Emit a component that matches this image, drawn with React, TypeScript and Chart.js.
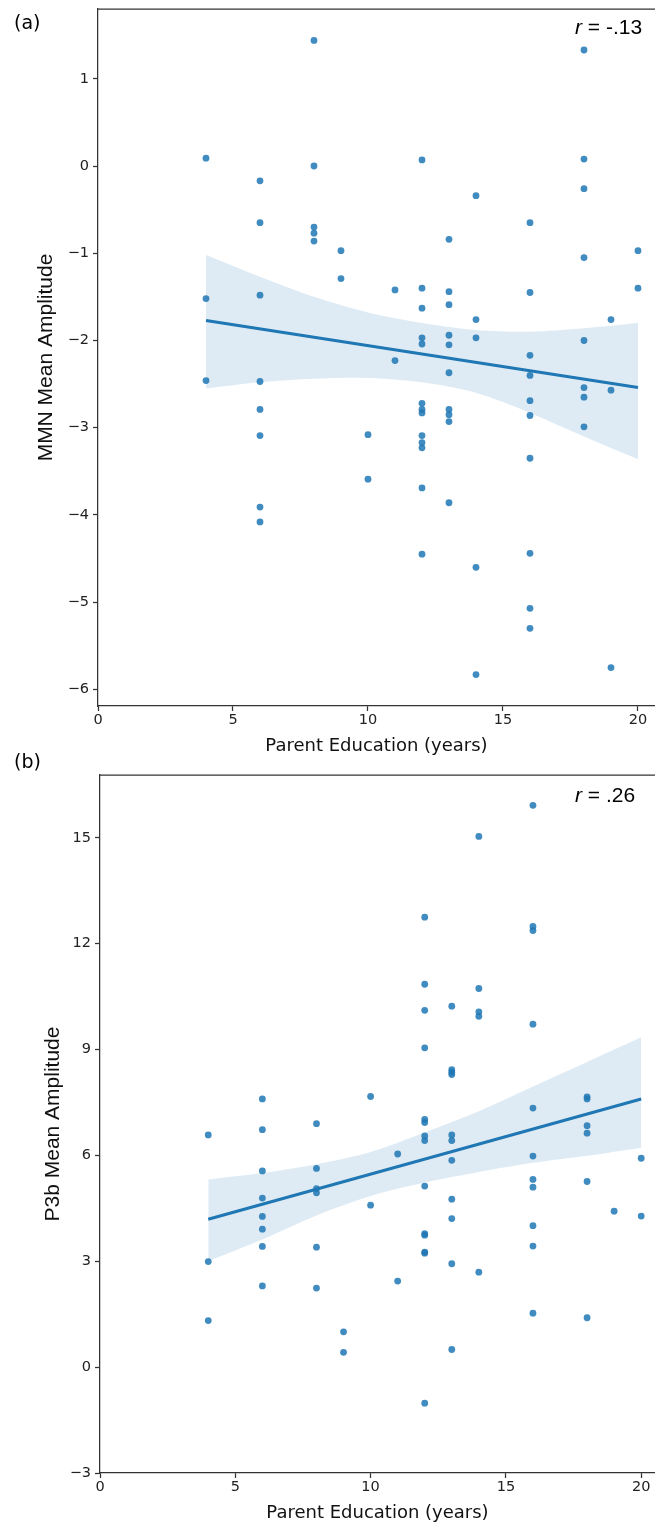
import React, { useEffect, useRef } from "react";
import { Chart, registerables } from "chart.js";

Chart.register(...registerables);

// ---------- Data ----------
// Panel (a): MMN mean amplitude vs parent education
const educationA = [
  4, 4, 4,
  6, 6, 6, 6, 6, 6, 6, 6,
  8, 8, 8, 8, 8,
  9, 9,
  10, 10,
  11, 11,
  12, 12, 12, 12, 12, 12, 12, 12, 12, 12, 12, 12, 12,
  13, 13, 13, 13, 13, 13, 13, 13, 13, 13,
  14, 14, 14, 14, 14,
  16, 16, 16, 16, 16, 16, 16, 16, 16, 16,
  18, 18, 18, 18, 18, 18, 18, 18,
  19, 19, 19,
  20, 20,
];
const mmnAmplitude = [
  0.09, -1.52, -2.46,
  -0.17, -0.65, -1.48, -2.47, -2.79, -3.09, -3.91, -4.08,
  1.44, 0.0, -0.7, -0.77, -0.86,
  -0.97, -1.29,
  -3.08, -3.59,
  -1.42, -2.23,
  0.07, -1.4, -1.63, -1.97, -2.04, -2.72, -2.79, -2.83, -3.09, -3.17, -3.23, -3.69, -4.45,
  -0.84, -1.44, -1.59, -1.94, -2.05, -2.37, -2.79, -2.85, -2.93, -3.86,
  -0.34, -1.76, -1.97, -4.6, -5.83,
  -0.65, -1.45, -2.17, -2.4, -2.69, -2.86, -3.35, -4.44, -5.07, -5.3,
  1.33, 0.08, -0.26, -1.05, -2.0, -2.54, -2.65, -2.99,
  -1.76, -2.57, -5.75,
  -0.97, -1.4,
];
const fitXA = [4, 20];
const fitYA = [-1.77, -2.54];
const bandXA = [4, 6, 8, 10, 12, 14, 16, 18, 20];
const bandUpperA = [-1.02, -1.27, -1.5, -1.68, -1.8, -1.88, -1.9, -1.86, -1.8];
const bandLowerA = [-2.55, -2.48, -2.44, -2.43, -2.48, -2.6, -2.83, -3.1, -3.36];
const yTicksA = [-6, -5, -4, -3, -2, -1, 0, 1];

// Panel (b): P3b mean amplitude vs parent education
const educationB = [
  4, 4, 4,
  6, 6, 6, 6, 6, 6, 6, 6,
  8, 8, 8, 8, 8, 8,
  9, 9,
  10, 10,
  11, 11,
  12, 12, 12, 12, 12, 12, 12, 12, 12, 12, 12, 12, 12, 12,
  13, 13, 13, 13, 13, 13, 13, 13, 13, 13, 13,
  14, 14, 14, 14, 14,
  16, 16, 16, 16, 16, 16, 16, 16, 16, 16, 16,
  18, 18, 18, 18, 18, 18,
  19,
  20, 20,
];
const p3bAmplitude = [
  6.58, 2.99, 1.32,
  7.6, 6.73, 5.56, 4.79, 4.27, 3.91, 3.42, 2.3,
  6.9, 5.63, 5.06, 4.94, 3.4, 2.24,
  1.0, 0.42,
  7.67, 4.59,
  6.04, 2.44,
  12.75, 10.85, 10.11, 9.05, 7.02, 6.93, 6.55, 6.42, 5.13, 3.78, 3.74, 3.26, 3.23, -1.02,
  10.23, 8.43, 8.36, 8.29, 6.58, 6.42, 5.86, 4.76, 4.21, 2.93, 0.5,
  15.04, 10.73, 10.07, 9.94, 2.69,
  15.92, 12.49, 12.37, 9.72, 7.34, 5.98, 5.32, 5.1, 4.01, 3.43, 1.53,
  7.66, 7.6, 6.84, 6.63, 5.26, 1.4,
  4.42,
  5.92, 4.28,
];
const fitXB = [4, 20];
const fitYB = [4.19, 7.6];
const bandXB = [4, 6, 8, 10, 12, 14, 16, 18, 20];
const bandUpperB = [5.32, 5.5, 5.75, 6.1, 6.65, 7.25, 7.95, 8.65, 9.35];
const bandLowerB = [3.01, 3.62, 4.3, 4.85, 5.23, 5.53, 5.79, 5.99, 6.22];
const yTicksB = [-3, 0, 3, 6, 9, 12, 15];

const xTicks = [0, 5, 10, 15, 20];

const panelLabels = ["(a)", "(b)"];
const rValues = [" = -.13", " = .26"];
const yTitles = ["MMN Mean Amplitude", "P3b Mean Amplitude"];
const xTitle = "Parent Education (years)";

// ---------- Styling ----------
const BLUE = "#1f77b4";
const POINT = "rgba(31,119,180,0.85)";
const BAND = "rgba(31,119,180,0.15)";
const SPINE = "#333333";
const TICKFONT = { family: "'DejaVu Sans'", size: 14.5 };

const fmt = (v: number) => (v < 0 ? "\u2212" + Math.abs(v) : String(v));

function pts(xs: number[], ys: number[]) {
  return xs.map((x, i) => ({ x, y: ys[i] }));
}

type PanelCfg = {
  educ: number[];
  amp: number[];
  fitX: number[];
  fitY: number[];
  bandX: number[];
  bandU: number[];
  bandL: number[];
  yTicks: number[];
  yMin: number;
  yMax: number;
  xMax: number;
  padTop: number;
  yWidth: number;
  xHeight: number;
  yTitle: string;
  yTitlePad: number;
  xTitlePad: number;
  label: string;
  labelY: number;
  rText: string;
  rY: number;
};

function makeChart(canvas: HTMLCanvasElement, c: PanelCfg) {
  const decor = {
    id: "decor",
    afterDraw(chart: any) {
      const { ctx, chartArea } = chart;
      ctx.save();
      ctx.strokeStyle = SPINE;
      ctx.lineWidth = 1.25;
      ctx.beginPath();
      ctx.moveTo(chartArea.left, chartArea.top);
      ctx.lineTo(chartArea.right, chartArea.top);
      ctx.stroke();
      ctx.fillStyle = "#000";
      ctx.textBaseline = "alphabetic";
      ctx.textAlign = "left";
      ctx.font = "19px 'DejaVu Sans'";
      ctx.fillText(c.label, 14, c.labelY);
      ctx.font = "italic 21px 'Liberation Sans'";
      ctx.fillText("r", 575, c.rY);
      const w = ctx.measureText("r").width;
      ctx.font = "21px 'Liberation Sans'";
      ctx.fillText(c.rText, 575 + w, c.rY);
      ctx.restore();
    },
  };

  const noPad = (s: any) => {
    s.paddingLeft = 0;
    s.paddingRight = 0;
    s.paddingTop = 0;
    s.paddingBottom = 0;
  };

  return new Chart(canvas, {
    type: "scatter",
    data: {
      datasets: [
        {
          type: "line",
          data: pts(c.bandX, c.bandU),
          borderWidth: 0,
          borderColor: "rgba(0,0,0,0)",
          backgroundColor: BAND,
          pointRadius: 0,
          fill: "+1",
          tension: 0.3,
          order: 3,
        } as any,
        {
          type: "line",
          data: pts(c.bandX, c.bandL),
          borderWidth: 0,
          borderColor: "rgba(0,0,0,0)",
          pointRadius: 0,
          fill: false,
          tension: 0.3,
          order: 3,
        } as any,
        {
          type: "scatter",
          data: pts(c.educ, c.amp),
          pointRadius: 3.4,
          pointBackgroundColor: POINT,
          pointBorderWidth: 0,
          order: 2,
        } as any,
        {
          type: "line",
          data: pts(c.fitX, c.fitY),
          borderColor: BLUE,
          borderWidth: 3,
          pointRadius: 0,
          fill: false,
          order: 1,
        } as any,
      ],
    },
    options: {
      responsive: false,
      animation: false,
      events: [],
      layout: { autoPadding: false, padding: { top: c.padTop, left: 0, right: 0, bottom: 0 } },
      plugins: {
        legend: { display: false },
        tooltip: { enabled: false },
        title: { display: false },
      },
      scales: {
        x: {
          type: "linear",
          min: 0,
          max: c.xMax,
          afterBuildTicks: (s: any) => {
            s.ticks = xTicks.map((v) => ({ value: v }));
          },
          afterFit: (s: any) => {
            s.height = c.xHeight;
            noPad(s);
          },
          grid: {
            display: true,
            drawOnChartArea: false,
            drawTicks: true,
            tickLength: 5,
            tickWidth: 1.25,
            tickColor: SPINE,
          },
          border: { display: true, color: SPINE, width: 1.25 },
          ticks: {
            color: "#222",
            font: TICKFONT,
            padding: 1,
            maxRotation: 0,
            autoSkip: false,
            callback: (v: any) => fmt(Number(v)),
          },
          title: {
            display: true,
            text: xTitle,
            color: "#111",
            font: { family: "'DejaVu Sans'", size: 18 },
            padding: { top: 0, bottom: c.xTitlePad },
          },
        },
        y: {
          type: "linear",
          min: c.yMin,
          max: c.yMax,
          afterBuildTicks: (s: any) => {
            s.ticks = c.yTicks.map((v) => ({ value: v }));
          },
          afterFit: (s: any) => {
            s.width = c.yWidth;
            noPad(s);
          },
          grid: {
            display: true,
            drawOnChartArea: false,
            drawTicks: true,
            tickLength: 5,
            tickWidth: 1.25,
            tickColor: SPINE,
          },
          border: { display: true, color: SPINE, width: 1.25 },
          ticks: {
            color: "#222",
            font: TICKFONT,
            padding: 4,
            autoSkip: false,
            callback: (v: any) => fmt(Number(v)),
          },
          title: {
            display: true,
            text: c.yTitle,
            color: "#111",
            font: { family: "'Liberation Sans'", size: 21 },
            padding: { top: c.yTitlePad, bottom: 0 },
          },
        },
      },
    } as any,
    plugins: [decor],
  });
}

export default function App() {
  const refA = useRef<HTMLCanvasElement>(null);
  const refB = useRef<HTMLCanvasElement>(null);

  useEffect(() => {
    document.body.style.margin = "0";
    const a = makeChart(refA.current!, {
      educ: educationA,
      amp: mmnAmplitude,
      fitX: fitXA,
      fitY: fitYA,
      bandX: bandXA,
      bandU: bandUpperA,
      bandL: bandLowerA,
      yTicks: yTicksA,
      yMin: -6.19,
      yMax: 1.8,
      xMax: 20.63,
      padTop: 9,
      yWidth: 98,
      xHeight: 54,
      yTitle: yTitles[0],
      yTitlePad: 34,
      xTitlePad: 3,
      label: panelLabels[0],
      labelY: 29,
      rText: rValues[0],
      rY: 34,
    });
    const b = makeChart(refB.current!, {
      educ: educationB,
      amp: p3bAmplitude,
      fitX: fitXB,
      fitY: fitYB,
      bandX: bandXB,
      bandU: bandUpperB,
      bandL: bandLowerB,
      yTicks: yTicksB,
      yMin: -3,
      yMax: 16.78,
      xMax: 20.51,
      padTop: 35,
      yWidth: 100,
      xHeight: 52,
      yTitle: yTitles[1],
      yTitlePad: 41,
      xTitlePad: 1,
      label: panelLabels[1],
      labelY: 28,
      rText: rValues[1],
      rY: 62,
    });
    return () => {
      a.destroy();
      b.destroy();
    };
  }, []);

  return (
    <div style={{ position: "relative", width: 655, height: 1525, background: "#fff" }}>
      <canvas
        ref={refA}
        width={655}
        height={760}
        style={{ position: "absolute", left: 0, top: 0, width: 655, height: 760 }}
      />
      <canvas
        ref={refB}
        width={655}
        height={785}
        style={{ position: "absolute", left: 0, top: 740, width: 655, height: 785 }}
      />
    </div>
  );
}
